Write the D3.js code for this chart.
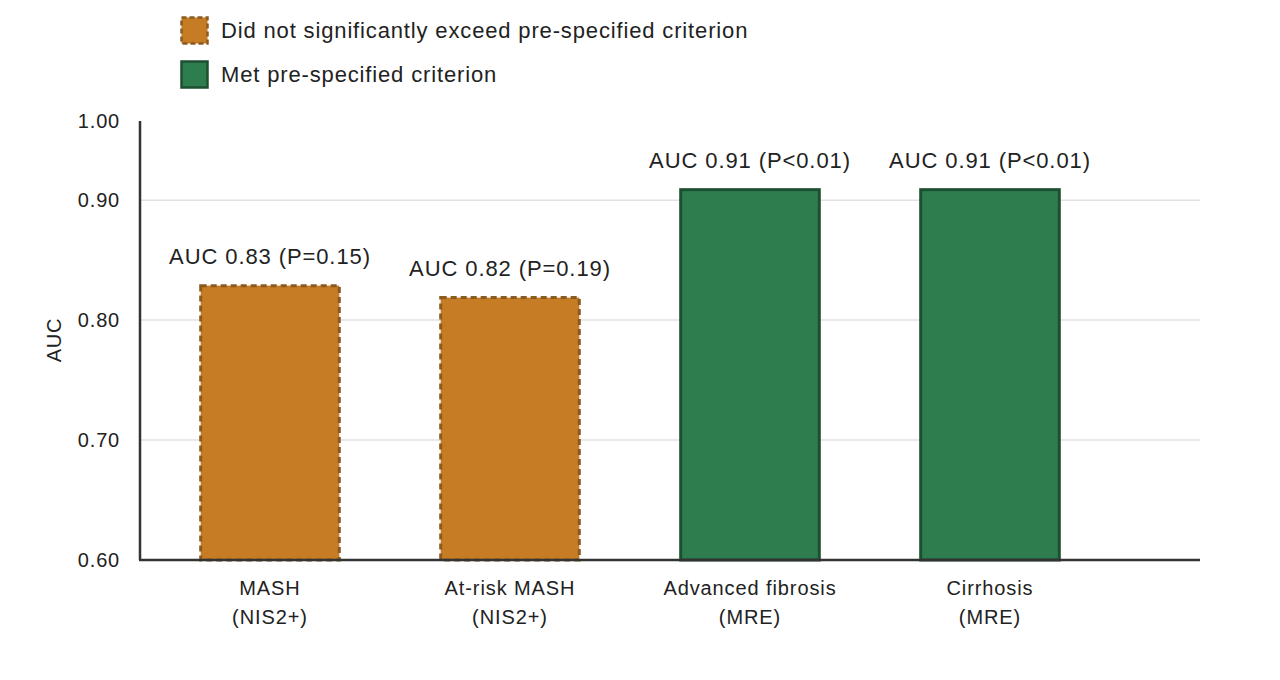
<!DOCTYPE html>
<html>
<head>
<meta charset="utf-8">
<script src="https://cdn.jsdelivr.net/npm/d3@7"></script>
<style>
  body { margin: 0; background: #fff; }
  svg { font-family: "Liberation Sans", Arial, sans-serif; }
</style>
</head>
<body>
<div id="app"></div>
<script>
`use strict`;

const categories = [`MASH|(NIS2+)`, `At-risk MASH|(NIS2+)`, `Advanced fibrosis|(MRE)`, `Cirrhosis|(MRE)`];
const aucValues = [0.83, 0.82, 0.91, 0.91];
const pLabels = [`P=0.15`, `P=0.19`, `P<0.01`, `P<0.01`];
const metCriterion = [false, false, true, true];
const tickValues = [0.6, 0.7, 0.8, 0.9, 0.966];
const tickLabels = [`0.60`, `0.70`, `0.80`, `0.90`, `1.00`];
const legendLabels = [`Did not significantly exceed pre-specified criterion`, `Met pre-specified criterion`];

const W = 1280, H = 680;

let svg = d3.select(`#app`).append(`svg`).attr(`width`, W).attr(`height`, H);

let x = d3.scaleBand().domain(categories).range([150, 1110]).paddingInner(0.41).paddingOuter(0.205);
let y = d3.scaleLinear().domain([0.6, 0.966]).range([560, 121]);

// gridlines
svg.append(`g`).selectAll(`line`).data(tickValues.slice(1, 4)).enter().append(`line`)
  .attr(`x1`, 140).attr(`x2`, 1200)
  .attr(`y1`, d => y(d)).attr(`y2`, d => y(d))
  .attr(`stroke`, `#e2e2e2`).attr(`stroke-width`, 1.5);

// y axis
let yAxis = d3.axisLeft(y).tickValues(tickValues).tickSize(0).tickPadding(20)
  .tickFormat((d, i) => tickLabels[i]);

let gy = svg.append(`g`).attr(`transform`, `translate(140,0)`).call(yAxis);
gy.select(`.domain`).remove();
gy.selectAll(`text`).attr(`font-size`, `20px`).attr(`letter-spacing`, `0.8px`).attr(`fill`, `#222`).attr(`font-family`, `"Liberation Sans", Arial, sans-serif`);

svg.append(`text`)
  .attr(`transform`, `translate(61,340) rotate(-90)`)
  .attr(`text-anchor`, `middle`).attr(`font-size`, `20px`).attr(`letter-spacing`, `0.8px`).attr(`fill`, `#222`)
  .text(`AUC`);

// bars
svg.append(`g`).selectAll(`rect`).data(categories).enter().append(`rect`)
  .attr(`x`, d => x(d) + 1.5)
  .attr(`y`, (d, i) => y(aucValues[i]) + 1.5)
  .attr(`width`, x.bandwidth() - 3)
  .attr(`height`, (d, i) => y(0.6) - y(aucValues[i]) - 1.5)
  .attr(`fill`, (d, i) => metCriterion[i] ? `#2e7d4f` : `#c67c25`)
  .attr(`stroke`, (d, i) => metCriterion[i] ? `#1d4f31` : `#8a5a1f`)
  .attr(`stroke-width`, 3)
  .attr(`stroke-dasharray`, (d, i) => metCriterion[i] ? null : `6 4`);

// value labels
svg.append(`g`).selectAll(`text`).data(categories).enter().append(`text`)
  .attr(`x`, d => x(d) + x.bandwidth() / 2)
  .attr(`y`, (d, i) => y(aucValues[i]) - 20)
  .attr(`text-anchor`, `middle`).attr(`font-size`, `22px`).attr(`letter-spacing`, `0.9px`).attr(`fill`, `#222`)
  .text((d, i) => `AUC ${aucValues[i].toFixed(2)} (${pLabels[i]})`);

// axis lines
svg.append(`line`).attr(`x1`, 139).attr(`x2`, 1200).attr(`y1`, y(0.6)).attr(`y2`, y(0.6))
  .attr(`stroke`, `#333`).attr(`stroke-width`, 2.5);
svg.append(`line`).attr(`x1`, 140).attr(`x2`, 140).attr(`y1`, y(0.966)).attr(`y2`, y(0.6))
  .attr(`stroke`, `#333`).attr(`stroke-width`, 2.5);

// category labels
let cat = svg.append(`g`).selectAll(`text`).data(categories).enter().append(`text`)
  .attr(`x`, d => x(d) + x.bandwidth() / 2)
  .attr(`y`, 595)
  .attr(`text-anchor`, `middle`).attr(`font-size`, `20px`).attr(`letter-spacing`, `0.9px`).attr(`fill`, `#222`);

cat.each(function (d) {
  let parts = d.split(`|`);
  d3.select(this).selectAll(`tspan`).data(parts).enter().append(`tspan`)
    .attr(`x`, x(d) + x.bandwidth() / 2)
    .attr(`dy`, (p, i) => i ? 29 : 0)
    .text(p => p);
});

// legend
let legend = svg.append(`g`).selectAll(`g`).data(legendLabels).enter().append(`g`)
  .attr(`transform`, (d, i) => `translate(180,${16 + i * 44})`);

legend.append(`rect`)
  .attr(`x`, 1.5).attr(`y`, 1.5).attr(`width`, 26).attr(`height`, 26)
  .attr(`fill`, (d, i) => i ? `#2e7d4f` : `#c67c25`)
  .attr(`stroke`, (d, i) => i ? `#1d4f31` : `#8a5a1f`)
  .attr(`stroke-width`, 2.5)
  .attr(`stroke-dasharray`, (d, i) => i ? null : `5 3`);

legend.append(`text`)
  .attr(`x`, 41).attr(`y`, 22)
  .attr(`font-size`, `22px`).attr(`letter-spacing`, `0.85px`).attr(`fill`, `#222`)
  .text(d => d);
</script>
</body>
</html>
